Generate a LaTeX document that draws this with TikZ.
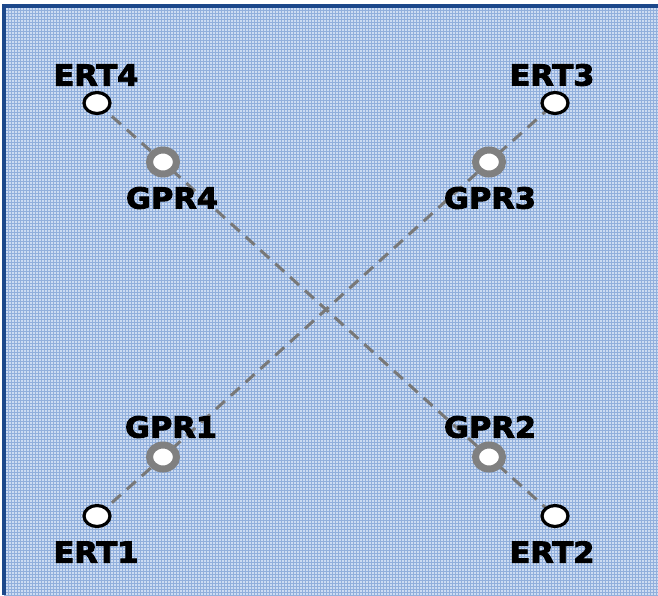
\documentclass[tikz,border=0pt]{standalone}
\usepackage{fontspec}
\setmainfont{DejaVu Sans}
\newfontfamily\lblfont{DejaVu Sans Bold}[FakeBold=3]
\usetikzlibrary{shapes.geometric}
\pgfdeclarelayer{bg}
\pgfdeclarelayer{lines}
\pgfsetlayers{bg,lines,main}
\definecolor{frameblue}{RGB}{28,72,138}
\definecolor{gridbase}{RGB}{205,220,242}
\definecolor{gridline}{RGB}{145,175,220}
\definecolor{ringgray}{RGB}{128,128,128}
\definecolor{dashgray}{RGB}{120,120,120}
\tikzset{
  ertnode/.style={ellipse, draw=black, fill=white, line width=3.2pt, minimum width=26pt, minimum height=21pt, inner sep=0pt},
  gprnode/.style={ellipse, draw=ringgray, fill=white, line width=7pt, minimum width=27pt, minimum height=24pt, inner sep=0pt},
  lbl/.style={font=\lblfont\fontsize{29}{32}\selectfont, inner sep=0pt, xscale=1.05, anchor=center},
  profile/.style={draw=dashgray, line width=3pt, dash pattern=on 12pt off 8pt}
}
\begin{document}
\begin{tikzpicture}[x=1pt, y=-1pt]
\useasboundingbox (0,0) rectangle (658,595);
\begin{pgfonlayer}{bg}
  \fill[white] (0,0) rectangle (658,595);
  \fill[gridbase] (4,6) rectangle (658,595);
  \foreach \i in {0,...,217} {
    \draw[gridline, line width=0.8pt] (5.5+3*\i,6) -- (5.5+3*\i,595);
  }
  \foreach \j in {0,...,196} {
    \draw[gridline, line width=0.8pt] (4,7.5+3*\j) -- (658,7.5+3*\j);
  }
  \fill[frameblue] (2,4) rectangle (6,595);
  \fill[frameblue] (2,4) rectangle (658,8);
\end{pgfonlayer}

\node[ertnode] (ert4) at (97,103) {};
\node[ertnode] (ert3) at (555,103) {};
\node[ertnode] (ert1) at (97,516) {};
\node[ertnode] (ert2) at (555,516) {};
\node[gprnode] (gpr4) at (163,162) {};
\node[gprnode] (gpr3) at (489,162) {};
\node[gprnode] (gpr1) at (163,457) {};
\node[gprnode] (gpr2) at (489,457) {};

\begin{pgfonlayer}{lines}
  \draw[profile] (ert4.center) -- (gpr4.center) -- (gpr2.center) -- (ert2.center);
  \draw[profile] (ert1.center) -- (gpr1.center) -- (gpr3.center) -- (ert3.center);
\end{pgfonlayer}

\node[lbl] (lert4) at (96,75) {ERT4};
\node[lbl] (lert3) at (552,75) {ERT3};
\node[lbl] (lert1) at (96,552) {ERT1};
\node[lbl] (lert2) at (552,552) {ERT2};
\node[lbl] (lgpr4) at (172,198) {GPR4};
\node[lbl] (lgpr3) at (490,198) {GPR3};
\node[lbl] (lgpr1) at (171,427) {GPR1};
\node[lbl] (lgpr2) at (490,427) {GPR2};
\end{tikzpicture}
\end{document}
